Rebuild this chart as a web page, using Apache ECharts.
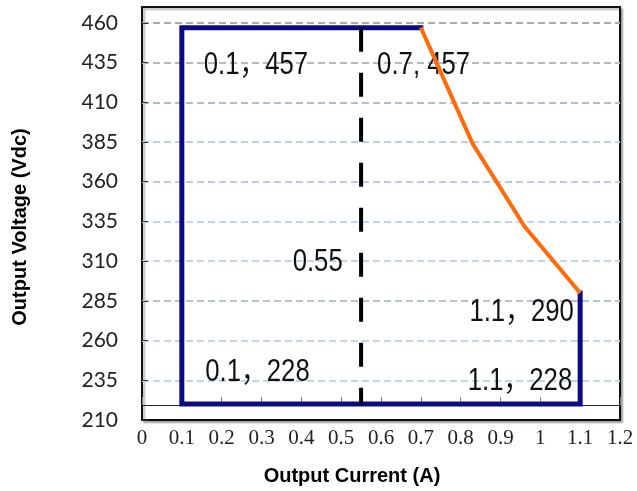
<!DOCTYPE html>
<html>
<head>
<meta charset="utf-8">
<script src="https://cdn.jsdelivr.net/npm/echarts@6/dist/echarts.min.js"></script>
<style>html,body{margin:0;padding:0;background:#fff;}#c{width:637px;height:491px;}</style>
</head>
<body>
<div id="c"></div>
<script>
// ---- data ----
const boundaryCurrent = [0.7, 0.1, 0.1, 1.1, 1.1];
const boundaryVoltage = [457, 457, 220, 220, 290];
const derateCurrent = [0.7, 0.83, 0.96, 1.1];
const derateVoltage = [457, 384, 332, 290];
const markerCurrent = [0.55, 0.55];
const markerVoltage = [457, 220];
const annotationText = ['0.1，457', '0.7, 457', '0.55', '1.1，290', '0.1，228', '1.1，228'];
const annotationCurrent = [0.286, 0.707, 0.441, 0.953, 0.29, 0.949];
const annotationVoltage = [433.5, 433.5, 309, 278, 240, 234];
const xRange = [0, 1.2];
const xStep = 0.1;
const yRange = [210, 470];
const yStep = 25;
const xTitle = 'Output Current (A)';
const yTitle = 'Output Voltage (Vdc)';

const zip = (a, b) => a.map((v, i) => [v, b[i]]);
const gridColors = ['#c5d2ea', '#c5d2ea', '#b9c1d2', '#c5d2ea', '#c5d2ea', '#bccae6', '#c3cde2', '#b3bdd0', '#b6bac3', '#aaaaaa', '#aaaaaa', '#aaaaaa'];

const chart = echarts.init(document.getElementById('c'), null, {renderer: 'canvas'});
chart.setOption({
  animation: false,
  backgroundColor: '#fff',
  grid: {
    left: 142, right: 17, top: 7, bottom: 69,
    show: true, borderColor: '#111', borderWidth: 2, backgroundColor: '#fff',
    shadowColor: 'rgba(0,0,0,0.3)', shadowBlur: 2, shadowOffsetX: 2, shadowOffsetY: 2
  },
  xAxis: [{
    type: 'value', position: 'bottom', min: xRange[0], max: xRange[1], interval: xStep,
    axisLine: {show: false}, axisTick: {show: false}, splitLine: {show: false},
    axisLabel: {margin: 8, color: '#222', fontFamily: 'Liberation Serif', fontSize: 21},
    name: xTitle, nameLocation: 'middle', nameGap: 46,
    nameTextStyle: {fontFamily: 'Liberation Sans', fontWeight: 'bold', fontSize: 20, color: '#000', padding: [0, 58, 0, 0]}
  }, {
    type: 'value', position: 'bottom', offset: -15, min: xRange[0], max: xRange[1], interval: xStep,
    axisLine: {show: true, lineStyle: {color: '#222', width: 1}},
    axisTick: {show: true, inside: true, length: 8, lineStyle: {color: '#777', width: 1}},
    axisLabel: {show: false}, splitLine: {show: false}
  }],
  yAxis: {
    type: 'value', min: yRange[0], max: yRange[1], interval: yStep,
    axisLine: {show: false},
    axisTick: {show: true, inside: true, length: 6, lineStyle: {color: '#333', width: 1}},
    axisLabel: {margin: 24, color: '#222', fontFamily: 'Lato', fontSize: 21, showMaxLabel: false},
    splitLine: {show: true, showMinLine: false, showMaxLine: false, lineStyle: {color: gridColors, width: 2, type: [7, 4]}},
    name: yTitle, nameLocation: 'middle', nameGap: 112,
    nameTextStyle: {fontFamily: 'Liberation Sans', fontWeight: 'bold', fontSize: 20, color: '#000', padding: [0, 27, 0, 0]}
  },
  series: [{
    type: 'line', name: 'boundary', data: zip(boundaryCurrent, boundaryVoltage),
    showSymbol: false, symbol: 'none', z: 3,
    lineStyle: {color: '#0c0c80', width: 5, join: 'miter', cap: 'square'}
  }, {
    type: 'line', name: 'marker', data: zip(markerCurrent, markerVoltage),
    showSymbol: false, symbol: 'none', z: 4,
    lineStyle: {color: '#000', width: 4, type: [24, 21]}
  }, {
    type: 'line', name: 'derating', data: zip(derateCurrent, derateVoltage),
    showSymbol: false, symbol: 'none', z: 6,
    lineStyle: {color: '#ff6a0a', width: 4, join: 'round'}
  }]
});

// annotations: placed through the chart's own scales, drawn as condensed text
chart.setOption({
  graphic: annotationText.map((t, i) => {
    const p = chart.convertToPixel({xAxisIndex: 0, yAxisIndex: 0}, [annotationCurrent[i], annotationVoltage[i]]);
    return {
      type: 'text', x: p[0], y: p[1], scaleX: 0.83, z: 5, zlevel: 0, silent: true,
      style: {
        text: t, x: 0, y: 0, fill: '#111', align: 'center', verticalAlign: 'middle',
        font: "31px 'Liberation Sans', 'Noto Sans CJK SC', sans-serif"
      }
    };
  })
});
</script>
</body>
</html>
